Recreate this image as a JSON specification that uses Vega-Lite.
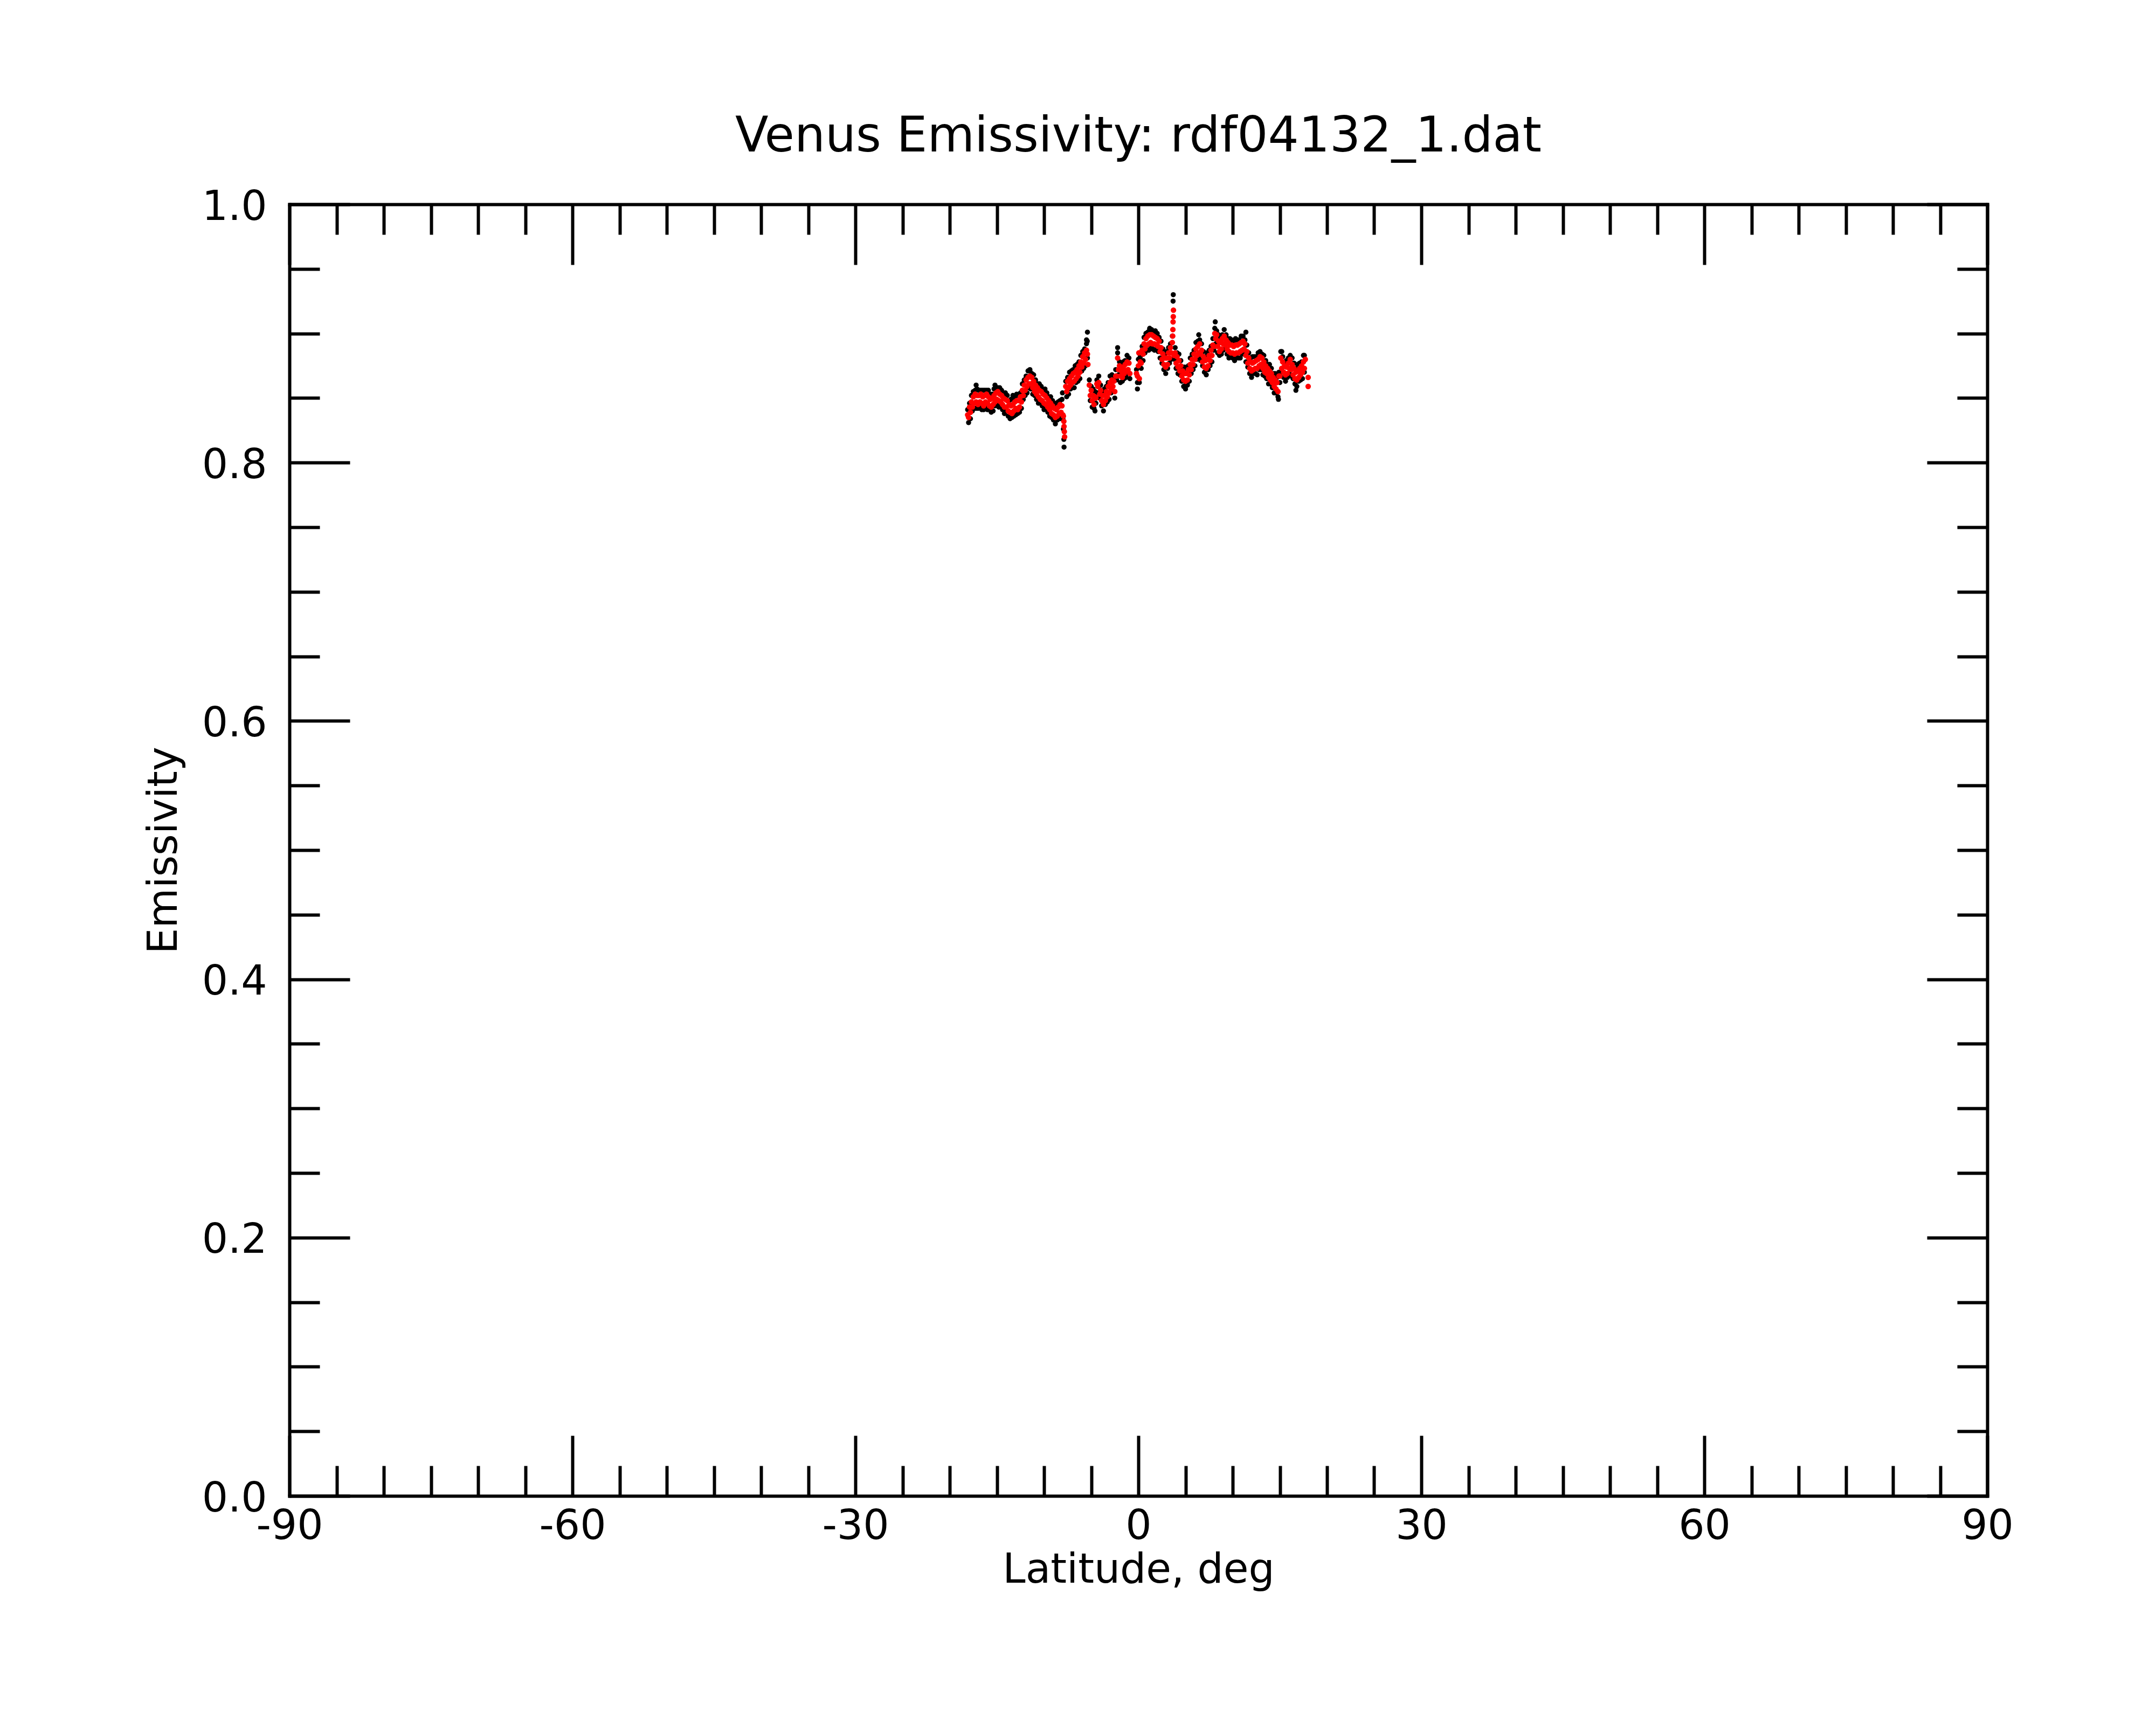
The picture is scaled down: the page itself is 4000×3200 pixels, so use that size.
{
  "$schema": "https://vega.github.io/schema/vega-lite/v6.json",
  "width": 3150,
  "height": 2396,
  "autosize": "none",
  "padding": {"left": 537, "top": 379, "right": 313, "bottom": 425},
  "background": "white",
  "title": {
    "text": "Venus Emissivity: rdf04132_1.dat",
    "font": "DejaVu Sans",
    "fontSize": 90,
    "fontWeight": "normal",
    "color": "black",
    "baseline": "alphabetic",
    "anchor": "middle",
    "frame": "group",
    "offset": -25
  },
  "config": {
    "view": {"stroke": null},
    "axis": {
      "labelFont": "DejaVu Sans",
      "titleFont": "DejaVu Sans",
      "labelFontSize": 76,
      "titleFontSize": 76,
      "labelColor": "black",
      "titleColor": "black",
      "titleFontWeight": "normal",
      "domainColor": "black",
      "tickColor": "black",
      "domainWidth": 6,
      "tickWidth": 6,
      "domainCap": "square",
      "grid": false,
      "labelFlush": false,
      "labelOverlap": false
    }
  },
  "datasets": {
    "raw": [
      {"lat":-18.1,"emis":0.841},{"lat":-18.0,"emis":0.831},{"lat":-17.9,"emis":0.846},{"lat":-17.8,"emis":0.834},{"lat":-17.7,"emis":0.852},{"lat":-17.6,"emis":0.840},
      {"lat":-17.5,"emis":0.855},{"lat":-17.4,"emis":0.842},{"lat":-17.3,"emis":0.856},{"lat":-17.2,"emis":0.842},{"lat":-17.1,"emis":0.857},{"lat":-17.0,"emis":0.842},
      {"lat":-16.9,"emis":0.856},{"lat":-16.8,"emis":0.843},{"lat":-16.7,"emis":0.856},{"lat":-16.6,"emis":0.841},{"lat":-16.5,"emis":0.856},{"lat":-16.4,"emis":0.841},
      {"lat":-16.3,"emis":0.856},{"lat":-16.2,"emis":0.843},{"lat":-16.1,"emis":0.856},{"lat":-16.0,"emis":0.841},{"lat":-15.9,"emis":0.856},{"lat":-15.8,"emis":0.841},
      {"lat":-15.7,"emis":0.853},{"lat":-15.6,"emis":0.839},{"lat":-15.5,"emis":0.853},{"lat":-15.4,"emis":0.840},{"lat":-15.3,"emis":0.857},{"lat":-15.2,"emis":0.844},
      {"lat":-15.1,"emis":0.858},{"lat":-15.0,"emis":0.845},{"lat":-14.9,"emis":0.858},{"lat":-14.8,"emis":0.843},{"lat":-14.7,"emis":0.858},{"lat":-14.6,"emis":0.844},
      {"lat":-14.5,"emis":0.856},{"lat":-14.4,"emis":0.841},{"lat":-14.3,"emis":0.853},{"lat":-14.2,"emis":0.838},{"lat":-14.1,"emis":0.854},{"lat":-14.0,"emis":0.840},
      {"lat":-13.9,"emis":0.852},{"lat":-13.8,"emis":0.836},{"lat":-13.7,"emis":0.848},{"lat":-13.6,"emis":0.834},{"lat":-13.5,"emis":0.849},{"lat":-13.4,"emis":0.835},
      {"lat":-13.3,"emis":0.849},{"lat":-13.2,"emis":0.836},{"lat":-13.1,"emis":0.850},{"lat":-13.0,"emis":0.837},{"lat":-12.9,"emis":0.853},{"lat":-12.8,"emis":0.838},
      {"lat":-12.7,"emis":0.852},{"lat":-12.6,"emis":0.839},{"lat":-12.5,"emis":0.854},{"lat":-12.4,"emis":0.842},{"lat":-12.3,"emis":0.861},{"lat":-12.2,"emis":0.849},
      {"lat":-12.1,"emis":0.864},{"lat":-12.0,"emis":0.852},{"lat":-11.9,"emis":0.867},{"lat":-11.8,"emis":0.854},{"lat":-11.7,"emis":0.871},{"lat":-11.6,"emis":0.858},
      {"lat":-11.5,"emis":0.871},{"lat":-11.4,"emis":0.857},{"lat":-11.3,"emis":0.869},{"lat":-11.2,"emis":0.853},{"lat":-11.1,"emis":0.868},{"lat":-11.0,"emis":0.852},
      {"lat":-10.9,"emis":0.864},{"lat":-10.8,"emis":0.849},{"lat":-10.7,"emis":0.861},{"lat":-10.6,"emis":0.846},{"lat":-10.5,"emis":0.861},{"lat":-10.4,"emis":0.846},
      {"lat":-10.3,"emis":0.859},{"lat":-10.2,"emis":0.844},{"lat":-10.1,"emis":0.856},{"lat":-10.0,"emis":0.841},{"lat":-9.9,"emis":0.857},{"lat":-9.8,"emis":0.842},
      {"lat":-9.7,"emis":0.854},{"lat":-9.6,"emis":0.839},{"lat":-9.5,"emis":0.851},{"lat":-9.4,"emis":0.836},{"lat":-9.3,"emis":0.851},{"lat":-9.2,"emis":0.835},
      {"lat":-9.1,"emis":0.848},{"lat":-9.0,"emis":0.833},{"lat":-8.9,"emis":0.845},{"lat":-8.8,"emis":0.830},{"lat":-8.7,"emis":0.846},{"lat":-8.6,"emis":0.833},
      {"lat":-8.5,"emis":0.847},{"lat":-8.4,"emis":0.834},{"lat":-8.3,"emis":0.848},{"lat":-8.2,"emis":0.834},{"lat":-8.1,"emis":0.849},{"lat":-8.0,"emis":0.834},
      {"lat":-8.05,"emis":0.854},{"lat":-7.95,"emis":0.826},{"lat":-7.9,"emis":0.818},{"lat":-7.88,"emis":0.812},
      {"lat":-7.7,"emis":0.863},{"lat":-7.6,"emis":0.851},{"lat":-7.5,"emis":0.866},{"lat":-7.4,"emis":0.853},{"lat":-7.3,"emis":0.870},{"lat":-7.2,"emis":0.857},
      {"lat":-7.1,"emis":0.871},{"lat":-7.0,"emis":0.858},{"lat":-6.9,"emis":0.872},{"lat":-6.8,"emis":0.858},{"lat":-6.7,"emis":0.875},{"lat":-6.6,"emis":0.862},
      {"lat":-6.5,"emis":0.876},{"lat":-6.4,"emis":0.863},{"lat":-6.3,"emis":0.878},{"lat":-6.2,"emis":0.865},{"lat":-6.1,"emis":0.883},{"lat":-6.0,"emis":0.871},
      {"lat":-5.9,"emis":0.886},{"lat":-5.8,"emis":0.873},{"lat":-5.7,"emis":0.888},{"lat":-5.6,"emis":0.875},{"lat":-5.5,"emis":0.892},{"lat":-5.4,"emis":0.881},
      {"lat":-5.4,"emis":0.901},{"lat":-5.42,"emis":0.894},
      {"lat":-5.2,"emis":0.864},{"lat":-5.1,"emis":0.848},{"lat":-5.0,"emis":0.859},{"lat":-4.9,"emis":0.843},{"lat":-4.8,"emis":0.857},{"lat":-4.7,"emis":0.842},
      {"lat":-4.6,"emis":0.855},{"lat":-4.6,"emis":0.840},{"lat":-4.5,"emis":0.846},{"lat":-4.4,"emis":0.864},{"lat":-4.3,"emis":0.854},{"lat":-4.2,"emis":0.867},{"lat":-4.1,"emis":0.850},
      {"lat":-4.0,"emis":0.860},{"lat":-3.9,"emis":0.844},{"lat":-3.8,"emis":0.855},{"lat":-3.7,"emis":0.840},{"lat":-3.6,"emis":0.857},{"lat":-3.5,"emis":0.845},
      {"lat":-3.4,"emis":0.859},{"lat":-3.3,"emis":0.847},{"lat":-3.2,"emis":0.862},{"lat":-3.1,"emis":0.849},{"lat":-3.0,"emis":0.867},{"lat":-2.9,"emis":0.854},
      {"lat":-2.8,"emis":0.868},{"lat":-2.7,"emis":0.855},{"lat":-2.6,"emis":0.866},{"lat":-2.5,"emis":0.850},{"lat":-2.4,"emis":0.872},{"lat":-2.3,"emis":0.864},
      {"lat":-2.2,"emis":0.885},{"lat":-2.2,"emis":0.889},{"lat":-2.1,"emis":0.868},{"lat":-2.0,"emis":0.878},{"lat":-1.9,"emis":0.862},{"lat":-1.8,"emis":0.876},{"lat":-1.7,"emis":0.863},
      {"lat":-1.6,"emis":0.878},{"lat":-1.5,"emis":0.865},{"lat":-1.4,"emis":0.879},{"lat":-1.3,"emis":0.866},{"lat":-1.2,"emis":0.883},{"lat":-1.1,"emis":0.869},
      {"lat":-1.0,"emis":0.881},{"lat":-0.9,"emis":0.865},
      {"lat":-0.2,"emis":0.872},{"lat":-0.1,"emis":0.862},{"lat":-0.1,"emis":0.857},{"lat":0.0,"emis":0.880},{"lat":0.1,"emis":0.862},{"lat":0.2,"emis":0.882},{"lat":0.3,"emis":0.873},
      {"lat":0.4,"emis":0.890},{"lat":0.5,"emis":0.879},{"lat":0.6,"emis":0.897},{"lat":0.7,"emis":0.885},{"lat":0.8,"emis":0.900},{"lat":0.9,"emis":0.887},
      {"lat":1.0,"emis":0.901},{"lat":1.1,"emis":0.887},{"lat":1.2,"emis":0.904},{"lat":1.3,"emis":0.890},{"lat":1.4,"emis":0.903},{"lat":1.5,"emis":0.888},
      {"lat":1.6,"emis":0.901},{"lat":1.7,"emis":0.887},{"lat":1.8,"emis":0.902},{"lat":1.9,"emis":0.888},{"lat":2.0,"emis":0.900},{"lat":2.1,"emis":0.886},
      {"lat":2.2,"emis":0.897},{"lat":2.3,"emis":0.881},{"lat":2.4,"emis":0.894},{"lat":2.5,"emis":0.877},{"lat":2.6,"emis":0.888},{"lat":2.7,"emis":0.872},
      {"lat":2.8,"emis":0.884},{"lat":2.9,"emis":0.869},{"lat":3.0,"emis":0.886},{"lat":3.1,"emis":0.873},{"lat":3.2,"emis":0.889},{"lat":3.3,"emis":0.877},
      {"lat":3.4,"emis":0.892},{"lat":3.5,"emis":0.880},{"lat":3.6,"emis":0.898},{"lat":3.68,"emis":0.925},{"lat":3.7,"emis":0.930},
      {"lat":3.8,"emis":0.880},{"lat":3.9,"emis":0.889},{"lat":4.0,"emis":0.873},{"lat":4.1,"emis":0.885},{"lat":4.2,"emis":0.869},{"lat":4.3,"emis":0.884},
      {"lat":4.4,"emis":0.868},{"lat":4.5,"emis":0.879},{"lat":4.6,"emis":0.863},{"lat":4.7,"emis":0.874},{"lat":4.8,"emis":0.859},{"lat":4.9,"emis":0.874},
      {"lat":5.0,"emis":0.860},{"lat":5.0,"emis":0.857},{"lat":5.1,"emis":0.873},{"lat":5.2,"emis":0.860},{"lat":5.3,"emis":0.875},{"lat":5.4,"emis":0.863},{"lat":5.5,"emis":0.881},
      {"lat":5.6,"emis":0.869},{"lat":5.7,"emis":0.884},{"lat":5.8,"emis":0.872},{"lat":5.9,"emis":0.887},{"lat":6.0,"emis":0.875},{"lat":6.1,"emis":0.893},
      {"lat":6.2,"emis":0.880},{"lat":6.3,"emis":0.894},{"lat":6.4,"emis":0.881},{"lat":6.4,"emis":0.899},{"lat":6.5,"emis":0.895},{"lat":6.6,"emis":0.879},{"lat":6.7,"emis":0.892},
      {"lat":6.8,"emis":0.875},{"lat":6.9,"emis":0.886},{"lat":7.0,"emis":0.870},{"lat":7.1,"emis":0.882},{"lat":7.2,"emis":0.868},{"lat":7.3,"emis":0.885},
      {"lat":7.4,"emis":0.872},{"lat":7.5,"emis":0.887},{"lat":7.6,"emis":0.875},{"lat":7.7,"emis":0.890},{"lat":7.8,"emis":0.878},{"lat":7.9,"emis":0.896},
      {"lat":8.0,"emis":0.887},{"lat":8.1,"emis":0.904},{"lat":8.15,"emis":0.909},{"lat":8.2,"emis":0.892},{"lat":8.3,"emis":0.902},{"lat":8.4,"emis":0.885},{"lat":8.5,"emis":0.899},
      {"lat":8.6,"emis":0.883},{"lat":8.7,"emis":0.897},{"lat":8.8,"emis":0.884},{"lat":8.9,"emis":0.899},{"lat":9.0,"emis":0.887},{"lat":9.1,"emis":0.903},
      {"lat":9.2,"emis":0.888},{"lat":9.3,"emis":0.899},{"lat":9.4,"emis":0.884},{"lat":9.5,"emis":0.896},{"lat":9.6,"emis":0.881},{"lat":9.7,"emis":0.896},
      {"lat":9.8,"emis":0.882},{"lat":9.9,"emis":0.895},{"lat":10.0,"emis":0.881},{"lat":10.1,"emis":0.893},{"lat":10.2,"emis":0.879},{"lat":10.3,"emis":0.896},
      {"lat":10.4,"emis":0.882},{"lat":10.5,"emis":0.895},{"lat":10.6,"emis":0.881},{"lat":10.7,"emis":0.895},{"lat":10.8,"emis":0.881},{"lat":10.9,"emis":0.898},
      {"lat":11.0,"emis":0.884},{"lat":11.1,"emis":0.898},{"lat":11.2,"emis":0.884},{"lat":11.3,"emis":0.895},{"lat":11.4,"emis":0.878},{"lat":11.4,"emis":0.901},{"lat":11.5,"emis":0.891},
      {"lat":11.6,"emis":0.874},{"lat":11.7,"emis":0.885},{"lat":11.8,"emis":0.869},{"lat":11.9,"emis":0.881},{"lat":12.0,"emis":0.866},{"lat":12.1,"emis":0.882},
      {"lat":12.2,"emis":0.869},{"lat":12.3,"emis":0.882},{"lat":12.4,"emis":0.869},{"lat":12.5,"emis":0.882},{"lat":12.6,"emis":0.868},{"lat":12.7,"emis":0.885},
      {"lat":12.8,"emis":0.872},{"lat":12.9,"emis":0.886},{"lat":13.0,"emis":0.872},{"lat":13.1,"emis":0.884},{"lat":13.2,"emis":0.868},{"lat":13.3,"emis":0.883},
      {"lat":13.4,"emis":0.867},{"lat":13.5,"emis":0.879},{"lat":13.6,"emis":0.865},{"lat":13.7,"emis":0.876},{"lat":13.8,"emis":0.861},{"lat":13.9,"emis":0.876},
      {"lat":14.0,"emis":0.861},{"lat":14.1,"emis":0.873},{"lat":14.2,"emis":0.858},{"lat":14.3,"emis":0.869},{"lat":14.4,"emis":0.854},{"lat":14.5,"emis":0.869},
      {"lat":14.6,"emis":0.854},{"lat":14.7,"emis":0.866},{"lat":14.8,"emis":0.851},{"lat":14.85,"emis":0.849},{"lat":14.9,"emis":0.870},{"lat":15.0,"emis":0.862},{"lat":15.1,"emis":0.886},
      {"lat":15.2,"emis":0.870},{"lat":15.2,"emis":0.886},{"lat":15.3,"emis":0.882},{"lat":15.4,"emis":0.866},{"lat":15.5,"emis":0.878},{"lat":15.6,"emis":0.863},{"lat":15.7,"emis":0.879},
      {"lat":15.8,"emis":0.866},{"lat":15.9,"emis":0.881},{"lat":16.0,"emis":0.869},{"lat":16.1,"emis":0.883},{"lat":16.2,"emis":0.867},{"lat":16.3,"emis":0.881},
      {"lat":16.4,"emis":0.865},{"lat":16.5,"emis":0.877},{"lat":16.6,"emis":0.861},{"lat":16.7,"emis":0.873},{"lat":16.7,"emis":0.856},{"lat":16.8,"emis":0.859},{"lat":16.9,"emis":0.876},
      {"lat":17.0,"emis":0.863},{"lat":17.1,"emis":0.877},{"lat":17.2,"emis":0.864},{"lat":17.3,"emis":0.878},{"lat":17.4,"emis":0.865},{"lat":17.5,"emis":0.883},
      {"lat":17.6,"emis":0.870},{"lat":17.6,"emis":0.883},
      {"lat":-17.2,"emis":0.860},{"lat":-15.2,"emis":0.860},{"lat":-13.3,"emis":0.852},{"lat":-11.5,"emis":0.872},{"lat":-5.5,"emis":0.895},{"lat":1.2,"emis":0.903}
    ],
    "smooth": [
      {"lat":-18.1,"emis":0.837},{"lat":-18.0,"emis":0.835},{"lat":-17.9,"emis":0.843},{"lat":-17.8,"emis":0.839},{"lat":-17.7,"emis":0.847},{"lat":-17.6,"emis":0.843},
      {"lat":-17.5,"emis":0.851},{"lat":-17.4,"emis":0.846},{"lat":-17.3,"emis":0.853},{"lat":-17.2,"emis":0.847},{"lat":-17.1,"emis":0.852},{"lat":-17.0,"emis":0.845},
      {"lat":-16.9,"emis":0.852},{"lat":-16.8,"emis":0.847},{"lat":-16.7,"emis":0.853},{"lat":-16.6,"emis":0.846},{"lat":-16.5,"emis":0.851},{"lat":-16.4,"emis":0.844},
      {"lat":-16.3,"emis":0.852},{"lat":-16.2,"emis":0.847},{"lat":-16.1,"emis":0.853},{"lat":-16.0,"emis":0.846},{"lat":-15.9,"emis":0.851},{"lat":-15.8,"emis":0.844},
      {"lat":-15.7,"emis":0.849},{"lat":-15.6,"emis":0.843},{"lat":-15.5,"emis":0.850},{"lat":-15.4,"emis":0.845},{"lat":-15.3,"emis":0.852},{"lat":-15.2,"emis":0.847},
      {"lat":-15.1,"emis":0.854},{"lat":-15.0,"emis":0.849},{"lat":-14.9,"emis":0.855},{"lat":-14.8,"emis":0.848},{"lat":-14.7,"emis":0.853},{"lat":-14.6,"emis":0.847},
      {"lat":-14.5,"emis":0.852},{"lat":-14.4,"emis":0.845},{"lat":-14.3,"emis":0.850},{"lat":-14.2,"emis":0.843},{"lat":-14.1,"emis":0.849},{"lat":-14.0,"emis":0.843},
      {"lat":-13.9,"emis":0.848},{"lat":-13.8,"emis":0.840},{"lat":-13.7,"emis":0.845},{"lat":-13.6,"emis":0.839},{"lat":-13.5,"emis":0.844},{"lat":-13.4,"emis":0.838},
      {"lat":-13.3,"emis":0.845},{"lat":-13.2,"emis":0.840},{"lat":-13.1,"emis":0.847},{"lat":-13.0,"emis":0.842},{"lat":-12.9,"emis":0.848},{"lat":-12.8,"emis":0.841},
      {"lat":-12.7,"emis":0.848},{"lat":-12.6,"emis":0.843},{"lat":-12.5,"emis":0.851},{"lat":-12.4,"emis":0.847},{"lat":-12.3,"emis":0.856},{"lat":-12.2,"emis":0.852},
      {"lat":-12.1,"emis":0.860},{"lat":-12.0,"emis":0.856},{"lat":-11.9,"emis":0.864},{"lat":-11.8,"emis":0.859},{"lat":-11.7,"emis":0.866},{"lat":-11.6,"emis":0.861},
      {"lat":-11.5,"emis":0.867},{"lat":-11.4,"emis":0.861},{"lat":-11.3,"emis":0.866},{"lat":-11.2,"emis":0.858},{"lat":-11.1,"emis":0.863},{"lat":-11.0,"emis":0.855},
      {"lat":-10.9,"emis":0.860},{"lat":-10.8,"emis":0.853},{"lat":-10.7,"emis":0.858},{"lat":-10.6,"emis":0.851},{"lat":-10.5,"emis":0.856},{"lat":-10.4,"emis":0.849},
      {"lat":-10.3,"emis":0.855},{"lat":-10.2,"emis":0.848},{"lat":-10.1,"emis":0.853},{"lat":-10.0,"emis":0.846},{"lat":-9.9,"emis":0.852},{"lat":-9.8,"emis":0.845},
      {"lat":-9.7,"emis":0.850},{"lat":-9.6,"emis":0.843},{"lat":-9.5,"emis":0.848},{"lat":-9.4,"emis":0.841},{"lat":-9.3,"emis":0.846},{"lat":-9.2,"emis":0.838},
      {"lat":-9.1,"emis":0.844},{"lat":-9.0,"emis":0.837},{"lat":-8.9,"emis":0.842},{"lat":-8.8,"emis":0.835},{"lat":-8.7,"emis":0.841},{"lat":-8.6,"emis":0.836},
      {"lat":-8.5,"emis":0.843},{"lat":-8.4,"emis":0.838},{"lat":-8.3,"emis":0.845},{"lat":-8.2,"emis":0.839},{"lat":-8.1,"emis":0.844},{"lat":-8.0,"emis":0.837},
      {"lat":-7.95,"emis":0.836},{"lat":-7.9,"emis":0.832},{"lat":-7.88,"emis":0.828},{"lat":-7.85,"emis":0.824},{"lat":-7.82,"emis":0.820},
      {"lat":-7.7,"emis":0.859},{"lat":-7.6,"emis":0.855},{"lat":-7.5,"emis":0.863},{"lat":-7.4,"emis":0.858},{"lat":-7.3,"emis":0.865},{"lat":-7.2,"emis":0.860},
      {"lat":-7.1,"emis":0.867},{"lat":-7.0,"emis":0.862},{"lat":-6.9,"emis":0.869},{"lat":-6.8,"emis":0.863},{"lat":-6.7,"emis":0.870},{"lat":-6.6,"emis":0.865},
      {"lat":-6.5,"emis":0.872},{"lat":-6.4,"emis":0.867},{"lat":-6.3,"emis":0.875},{"lat":-6.2,"emis":0.870},{"lat":-6.1,"emis":0.878},{"lat":-6.0,"emis":0.874},
      {"lat":-5.9,"emis":0.882},{"lat":-5.8,"emis":0.877},{"lat":-5.7,"emis":0.885},{"lat":-5.6,"emis":0.880},{"lat":-5.5,"emis":0.887},{"lat":-5.4,"emis":0.884},
      {"lat":-5.35,"emis":0.876},
      {"lat":-5.2,"emis":0.860},{"lat":-5.1,"emis":0.852},{"lat":-5.0,"emis":0.856},{"lat":-4.9,"emis":0.848},{"lat":-4.8,"emis":0.852},{"lat":-4.7,"emis":0.845},
      {"lat":-4.6,"emis":0.851},{"lat":-4.5,"emis":0.850},{"lat":-4.4,"emis":0.861},{"lat":-4.3,"emis":0.859},{"lat":-4.2,"emis":0.862},{"lat":-4.1,"emis":0.853},
      {"lat":-4.0,"emis":0.856},{"lat":-3.9,"emis":0.848},{"lat":-3.8,"emis":0.852},{"lat":-3.7,"emis":0.845},{"lat":-3.6,"emis":0.852},{"lat":-3.5,"emis":0.848},
      {"lat":-3.4,"emis":0.855},{"lat":-3.3,"emis":0.851},{"lat":-3.2,"emis":0.859},{"lat":-3.1,"emis":0.854},{"lat":-3.0,"emis":0.862},{"lat":-2.9,"emis":0.857},
      {"lat":-2.8,"emis":0.864},{"lat":-2.7,"emis":0.859},{"lat":-2.6,"emis":0.863},{"lat":-2.5,"emis":0.855},{"lat":-2.4,"emis":0.867},{"lat":-2.3,"emis":0.867},
      {"lat":-2.2,"emis":0.881},{"lat":-2.1,"emis":0.872},{"lat":-2.0,"emis":0.875},{"lat":-1.9,"emis":0.867},{"lat":-1.8,"emis":0.871},{"lat":-1.7,"emis":0.866},
      {"lat":-1.6,"emis":0.874},{"lat":-1.5,"emis":0.869},{"lat":-1.4,"emis":0.876},{"lat":-1.3,"emis":0.871},{"lat":-1.2,"emis":0.878},{"lat":-1.1,"emis":0.872},
      {"lat":-1.0,"emis":0.877},{"lat":-0.9,"emis":0.869},
      {"lat":-0.2,"emis":0.869},{"lat":-0.1,"emis":0.867},{"lat":0.0,"emis":0.875},{"lat":0.05,"emis":0.885},{"lat":0.1,"emis":0.865},{"lat":0.2,"emis":0.878},{"lat":0.3,"emis":0.877},
      {"lat":0.4,"emis":0.887},{"lat":0.5,"emis":0.884},{"lat":0.6,"emis":0.892},{"lat":0.7,"emis":0.888},{"lat":0.8,"emis":0.896},{"lat":0.9,"emis":0.891},
      {"lat":1.0,"emis":0.898},{"lat":1.1,"emis":0.892},{"lat":1.2,"emis":0.899},{"lat":1.3,"emis":0.893},{"lat":1.4,"emis":0.899},{"lat":1.5,"emis":0.892},
      {"lat":1.6,"emis":0.898},{"lat":1.7,"emis":0.892},{"lat":1.8,"emis":0.897},{"lat":1.9,"emis":0.891},{"lat":2.0,"emis":0.896},{"lat":2.1,"emis":0.890},
      {"lat":2.2,"emis":0.894},{"lat":2.3,"emis":0.886},{"lat":2.4,"emis":0.889},{"lat":2.5,"emis":0.880},{"lat":2.6,"emis":0.884},{"lat":2.7,"emis":0.876},
      {"lat":2.8,"emis":0.881},{"lat":2.9,"emis":0.874},{"lat":3.0,"emis":0.881},{"lat":3.1,"emis":0.876},{"lat":3.2,"emis":0.885},{"lat":3.3,"emis":0.881},
      {"lat":3.4,"emis":0.889},{"lat":3.5,"emis":0.885},{"lat":3.6,"emis":0.893},
      {"lat":3.64,"emis":0.898},{"lat":3.66,"emis":0.903},{"lat":3.68,"emis":0.909},{"lat":3.7,"emis":0.913},{"lat":3.72,"emis":0.918},
      {"lat":3.8,"emis":0.883},{"lat":3.9,"emis":0.885},{"lat":4.0,"emis":0.877},{"lat":4.1,"emis":0.882},{"lat":4.2,"emis":0.874},{"lat":4.3,"emis":0.879},
      {"lat":4.4,"emis":0.871},{"lat":4.5,"emis":0.875},{"lat":4.6,"emis":0.867},{"lat":4.7,"emis":0.871},{"lat":4.8,"emis":0.864},{"lat":4.9,"emis":0.869},
      {"lat":5.0,"emis":0.863},{"lat":5.1,"emis":0.869},{"lat":5.2,"emis":0.864},{"lat":5.3,"emis":0.872},{"lat":5.4,"emis":0.868},{"lat":5.5,"emis":0.876},
      {"lat":5.6,"emis":0.872},{"lat":5.7,"emis":0.880},{"lat":5.8,"emis":0.876},{"lat":5.9,"emis":0.884},{"lat":6.0,"emis":0.880},{"lat":6.1,"emis":0.888},
      {"lat":6.2,"emis":0.883},{"lat":6.3,"emis":0.890},{"lat":6.4,"emis":0.885},{"lat":6.5,"emis":0.892},{"lat":6.6,"emis":0.884},{"lat":6.7,"emis":0.887},
      {"lat":6.8,"emis":0.878},{"lat":6.9,"emis":0.882},{"lat":7.0,"emis":0.874},{"lat":7.1,"emis":0.879},{"lat":7.2,"emis":0.873},{"lat":7.3,"emis":0.880},
      {"lat":7.4,"emis":0.875},{"lat":7.5,"emis":0.883},{"lat":7.6,"emis":0.879},{"lat":7.7,"emis":0.887},{"lat":7.8,"emis":0.883},{"lat":7.9,"emis":0.891},
      {"lat":8.0,"emis":0.890},{"lat":8.1,"emis":0.900},{"lat":8.2,"emis":0.896},{"lat":8.3,"emis":0.899},{"lat":8.4,"emis":0.890},{"lat":8.5,"emis":0.894},
      {"lat":8.6,"emis":0.886},{"lat":8.7,"emis":0.893},{"lat":8.8,"emis":0.888},{"lat":8.9,"emis":0.896},{"lat":9.0,"emis":0.892},{"lat":9.1,"emis":0.898},
      {"lat":9.2,"emis":0.891},{"lat":9.3,"emis":0.895},{"lat":9.4,"emis":0.888},{"lat":9.5,"emis":0.893},{"lat":9.6,"emis":0.886},{"lat":9.7,"emis":0.891},
      {"lat":9.8,"emis":0.885},{"lat":9.9,"emis":0.891},{"lat":10.0,"emis":0.885},{"lat":10.1,"emis":0.890},{"lat":10.2,"emis":0.884},{"lat":10.3,"emis":0.891},
      {"lat":10.4,"emis":0.885},{"lat":10.5,"emis":0.891},{"lat":10.6,"emis":0.885},{"lat":10.7,"emis":0.892},{"lat":10.8,"emis":0.886},{"lat":10.9,"emis":0.893},
      {"lat":11.0,"emis":0.887},{"lat":11.1,"emis":0.894},{"lat":11.2,"emis":0.888},{"lat":11.3,"emis":0.892},{"lat":11.4,"emis":0.883},{"lat":11.5,"emis":0.886},
      {"lat":11.6,"emis":0.877},{"lat":11.7,"emis":0.881},{"lat":11.8,"emis":0.873},{"lat":11.9,"emis":0.878},{"lat":12.0,"emis":0.871},{"lat":12.1,"emis":0.877},
      {"lat":12.2,"emis":0.872},{"lat":12.3,"emis":0.878},{"lat":12.4,"emis":0.873},{"lat":12.5,"emis":0.879},{"lat":12.6,"emis":0.873},{"lat":12.7,"emis":0.880},
      {"lat":12.8,"emis":0.875},{"lat":12.9,"emis":0.882},{"lat":13.0,"emis":0.876},{"lat":13.1,"emis":0.881},{"lat":13.2,"emis":0.873},{"lat":13.3,"emis":0.878},
      {"lat":13.4,"emis":0.870},{"lat":13.5,"emis":0.875},{"lat":13.6,"emis":0.869},{"lat":13.7,"emis":0.873},{"lat":13.8,"emis":0.866},{"lat":13.9,"emis":0.871},
      {"lat":14.0,"emis":0.864},{"lat":14.1,"emis":0.869},{"lat":14.2,"emis":0.862},{"lat":14.3,"emis":0.866},{"lat":14.4,"emis":0.859},{"lat":14.5,"emis":0.864},
      {"lat":14.6,"emis":0.857},{"lat":14.7,"emis":0.862},{"lat":14.8,"emis":0.855},{"lat":14.9,"emis":0.867},{"lat":15.0,"emis":0.867},{"lat":15.1,"emis":0.881},
      {"lat":15.2,"emis":0.873},{"lat":15.3,"emis":0.878},{"lat":15.4,"emis":0.870},{"lat":15.5,"emis":0.875},{"lat":15.6,"emis":0.868},{"lat":15.7,"emis":0.874},
      {"lat":15.8,"emis":0.869},{"lat":15.9,"emis":0.877},{"lat":16.0,"emis":0.873},{"lat":16.1,"emis":0.880},{"lat":16.2,"emis":0.872},{"lat":16.3,"emis":0.876},
      {"lat":16.4,"emis":0.868},{"lat":16.5,"emis":0.873},{"lat":16.6,"emis":0.865},{"lat":16.7,"emis":0.870},{"lat":16.8,"emis":0.864},{"lat":16.9,"emis":0.871},
      {"lat":17.0,"emis":0.866},{"lat":17.1,"emis":0.873},{"lat":17.2,"emis":0.868},{"lat":17.3,"emis":0.875},{"lat":17.4,"emis":0.870},{"lat":17.5,"emis":0.878},
      {"lat":17.6,"emis":0.873},{"lat":17.7,"emis":0.880},{"lat":18.0,"emis":0.866},{"lat":18.0,"emis":0.859}
    ]
  },
  "resolve": {"axis": {"x": "independent", "y": "independent"}},
  "layer": [
    {
      "data": {"name": "smooth"},
      "mark": {"type": "circle", "opacity": 0},
      "encoding": {
        "x": {
          "field": "lat", "type": "quantitative",
          "scale": {"domain": [-90, 90], "nice": false, "zero": false},
          "axis": {"orient": "bottom", "title": null, "labels": false, "domain": false, "tickSize": -56,
                   "values": [-85,-80,-75,-70,-65,-55,-50,-45,-40,-35,-25,-20,-15,-10,-5,5,10,15,20,25,35,40,45,50,55,65,70,75,80,85]}
        },
        "y": {
          "field": "emis", "type": "quantitative",
          "scale": {"domain": [0, 1], "nice": false, "zero": false},
          "axis": {"orient": "left", "title": null, "labels": false, "domain": false, "tickSize": -56,
                   "values": [0.05,0.1,0.15,0.25,0.3,0.35,0.45,0.5,0.55,0.65,0.7,0.75,0.85,0.9,0.95]}
        }
      }
    },
    {
      "data": {"name": "smooth"},
      "mark": {"type": "circle", "opacity": 0},
      "encoding": {
        "x": {
          "field": "lat", "type": "quantitative",
          "scale": {"domain": [-90, 90], "nice": false, "zero": false},
          "axis": {"orient": "top", "title": null, "labels": false, "domain": false, "tickSize": -56,
                   "values": [-85,-80,-75,-70,-65,-55,-50,-45,-40,-35,-25,-20,-15,-10,-5,5,10,15,20,25,35,40,45,50,55,65,70,75,80,85]}
        },
        "y": {
          "field": "emis", "type": "quantitative",
          "scale": {"domain": [0, 1], "nice": false, "zero": false},
          "axis": {"orient": "right", "title": null, "labels": false, "domain": false, "tickSize": -56,
                   "values": [0.05,0.1,0.15,0.25,0.3,0.35,0.45,0.5,0.55,0.65,0.7,0.75,0.85,0.9,0.95]}
        }
      }
    },
    {
      "data": {"name": "raw"},
      "mark": {"type": "circle", "color": "black", "size": 90, "opacity": 1},
      "encoding": {
        "x": {
          "field": "lat", "type": "quantitative",
          "scale": {"domain": [-90, 90], "nice": false, "zero": false},
          "axis": {"orient": "bottom", "values": [-90,-60,-30,0,30,60,90], "labelExpr": "toString(datum.value)",
                   "tickSize": -112, "labelPadding": 131,
                   "title": "Latitude, deg", "titleBaseline": "alphabetic", "titleX": 1575, "titleY": 160}
        },
        "y": {
          "field": "emis", "type": "quantitative",
          "scale": {"domain": [0, 1], "nice": false, "zero": false},
          "axis": {"orient": "left", "values": [0,0.2,0.4,0.6,0.8,1.0], "format": ".1f",
                   "tickSize": -112, "labelPadding": 154, "labelOffset": 5,
                   "title": "Emissivity", "titleAngle": -90, "titleBaseline": "alphabetic", "titleX": -210, "titleY": 1198}
        }
      }
    },
    {
      "data": {"name": "smooth"},
      "mark": {"type": "circle", "color": "#ff0000", "size": 105, "opacity": 1},
      "encoding": {
        "x": {
          "field": "lat", "type": "quantitative",
          "scale": {"domain": [-90, 90], "nice": false, "zero": false},
          "axis": {"orient": "top", "values": [-90,-60,-30,0,30,60,90], "labels": false, "title": null, "tickSize": -112}
        },
        "y": {
          "field": "emis", "type": "quantitative",
          "scale": {"domain": [0, 1], "nice": false, "zero": false},
          "axis": {"orient": "right", "values": [0,0.2,0.4,0.6,0.8,1.0], "labels": false, "title": null, "tickSize": -112}
        }
      }
    }
  ]
}
